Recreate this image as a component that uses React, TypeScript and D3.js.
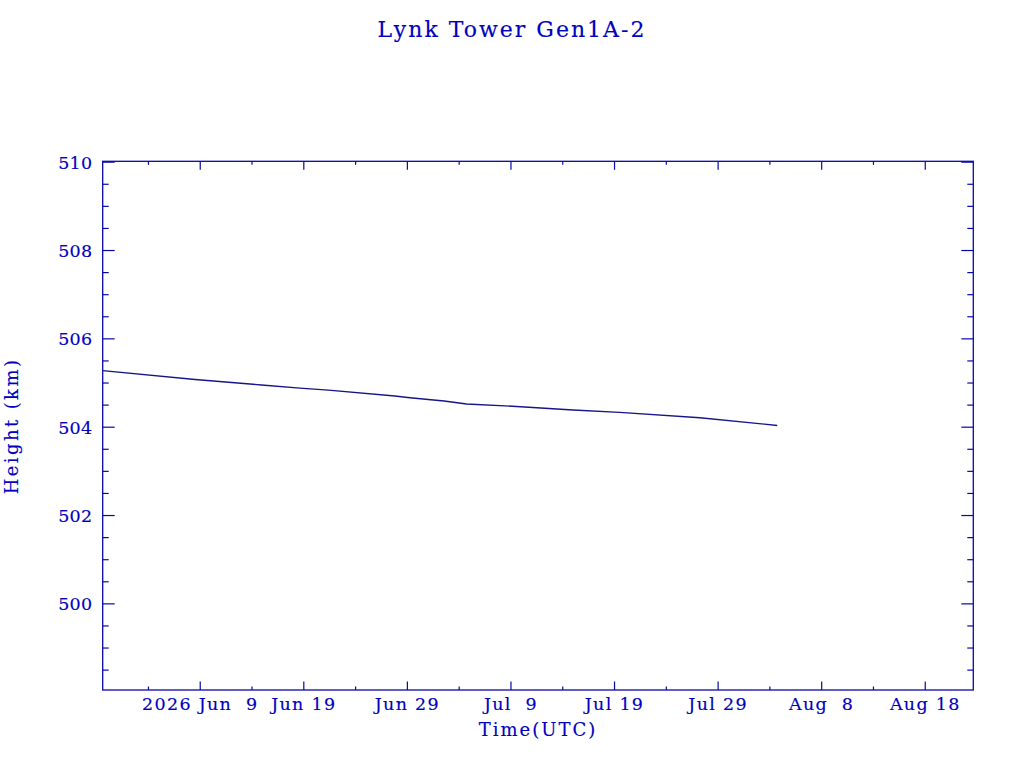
import React from "react";
import * as d3 from "d3";

const title = "Lynk Tower Gen1A-2";
const xTitle = "Time(UTC)";
const yTitle = "Height (km)";

const sampleTimes = [
  "2026-05-30T14:00:00Z", "2026-06-08T12:00:00Z", "2026-06-14T22:00:00Z",
  "2026-06-18T15:00:00Z", "2026-06-21T09:00:00Z", "2026-06-27T19:00:00Z",
  "2026-06-29T06:00:00Z", "2026-07-02T13:00:00Z", "2026-07-04T17:00:00Z",
  "2026-07-09T13:00:00Z", "2026-07-15T00:00:00Z", "2026-07-19T12:00:00Z",
  "2026-07-27T06:00:00Z", "2026-08-03T17:00:00Z",
];
const heights = [
  505.28, 505.08, 504.955, 504.885, 504.84, 504.706, 504.667,
  504.593, 504.525, 504.47, 504.39, 504.335, 504.215, 504.04,
];

const xTickDates = [
  "2026-06-09T00:00:00Z", "2026-06-19T00:00:00Z", "2026-06-29T00:00:00Z",
  "2026-07-09T00:00:00Z", "2026-07-19T00:00:00Z", "2026-07-29T00:00:00Z",
  "2026-08-08T00:00:00Z", "2026-08-18T00:00:00Z",
];
const xTickLabels = [
  "2026 Jun  9", "Jun 19", "Jun 29", "Jul  9", "Jul 19", "Jul 29", "Aug  8", "Aug 18",
];
const yTickValues = [500, 502, 504, 506, 508, 510];
const xDomain = ["2026-05-30T14:00:00Z", "2026-08-22T15:20:00Z"];
const yDomain = [498.05, 510.02];

const TEXT = "#0000c0";
const AXIS = "#0808a8";
const LINE = "#16168a";
const FONT = "'DejaVu Serif', serif";

export default function App() {
  const left = 102.7, right = 973.3, top = 161.3, bottom = 690;
  const x = d3.scaleUtc().domain(xDomain.map((d) => new Date(d))).range([left, right]);
  const y = d3.scaleLinear().domain(yDomain).range([bottom, top]);

  const data = sampleTimes.map((t, i) => ({ t: new Date(t), h: heights[i] }));
  const line = d3.line<{ t: Date; h: number }>().x((d) => x(d.t)).y((d) => y(d.h));

  const anchor = new Date(xTickDates[0]);
  const [d0, d1] = x.domain();
  const minorX = d3
    .range(-4, 30)
    .map((k) => d3.utcDay.offset(anchor, 5 * k))
    .filter((d) => d >= d0 && d <= d1 && !xTickDates.some((m) => +new Date(m) === +d));
  const minorY = d3
    .range(Math.ceil(yDomain[0] * 2), Math.floor(yDomain[1] * 2) + 1)
    .map((k) => k / 2)
    .filter((v) => !yTickValues.includes(v));

  const textStyle = { stroke: TEXT, strokeWidth: 0.15, whiteSpace: "pre" as const };

  return (
    <svg
      width={1024}
      height={768}
      style={{ position: "absolute", left: 0, top: 0, background: "#fff" }}
    >
      <rect x={0} y={0} width={1024} height={768} fill="#fff" />
      <text x={512} y={37.3} textAnchor="middle" fill={TEXT} fontFamily={FONT} fontSize={22} letterSpacing={2} style={textStyle}>
        {title}
      </text>

      <rect x={left} y={top} width={right - left} height={bottom - top} fill="none" stroke={AXIS} strokeWidth={1.3} />

      {xTickDates.map((d, i) => {
        const px = x(new Date(d));
        return (
          <g key={"xt" + i}>
            <line x1={px} x2={px} y1={bottom} y2={bottom - 8.5} stroke={AXIS} strokeWidth={1.2} />
            <line x1={px} x2={px} y1={top} y2={top + 8.5} stroke={AXIS} strokeWidth={1.2} />
            <text
              x={px}
              y={710}
              textAnchor="middle"
              fill={TEXT}
              fontFamily={FONT}
              fontSize={17.5}
              letterSpacing={1.3}
              style={textStyle}
            >
              {xTickLabels[i]}
            </text>
          </g>
        );
      })}
      {minorX.map((d, i) => {
        const px = x(d);
        return (
          <g key={"xm" + i}>
            <line x1={px} x2={px} y1={bottom} y2={bottom - 3.5} stroke={AXIS} strokeWidth={1.2} />
            <line x1={px} x2={px} y1={top} y2={top + 3.5} stroke={AXIS} strokeWidth={1.2} />
          </g>
        );
      })}

      {yTickValues.map((v, i) => {
        const py = y(v);
        return (
          <g key={"yt" + i}>
            <line x1={left} x2={left + 12} y1={py} y2={py} stroke={AXIS} strokeWidth={1.2} />
            <line x1={right} x2={right - 12} y1={py} y2={py} stroke={AXIS} strokeWidth={1.2} />
            <text x={92.5} y={py + 6.5} textAnchor="end" fill={TEXT} fontFamily={FONT} fontSize={17.5} letterSpacing={0.3} style={textStyle}>
              {v}
            </text>
          </g>
        );
      })}
      {minorY.map((v, i) => {
        const py = y(v);
        return (
          <g key={"ym" + i}>
            <line x1={left} x2={left + 6} y1={py} y2={py} stroke={AXIS} strokeWidth={1.2} />
            <line x1={right} x2={right - 6} y1={py} y2={py} stroke={AXIS} strokeWidth={1.2} />
          </g>
        );
      })}

      <path d={line(data) || ""} fill="none" stroke={LINE} strokeWidth={1.4} />

      <text x={538} y={735.7} textAnchor="middle" fill={TEXT} fontFamily={FONT} fontSize={18} letterSpacing={2} style={textStyle}>
        {xTitle}
      </text>
      <text
        transform="translate(18.3,426) rotate(-90)"
        textAnchor="middle"
        fill={TEXT}
        fontFamily={FONT}
        fontSize={18}
        letterSpacing={2.4}
        style={textStyle}
      >
        {yTitle}
      </text>
    </svg>
  );
}
